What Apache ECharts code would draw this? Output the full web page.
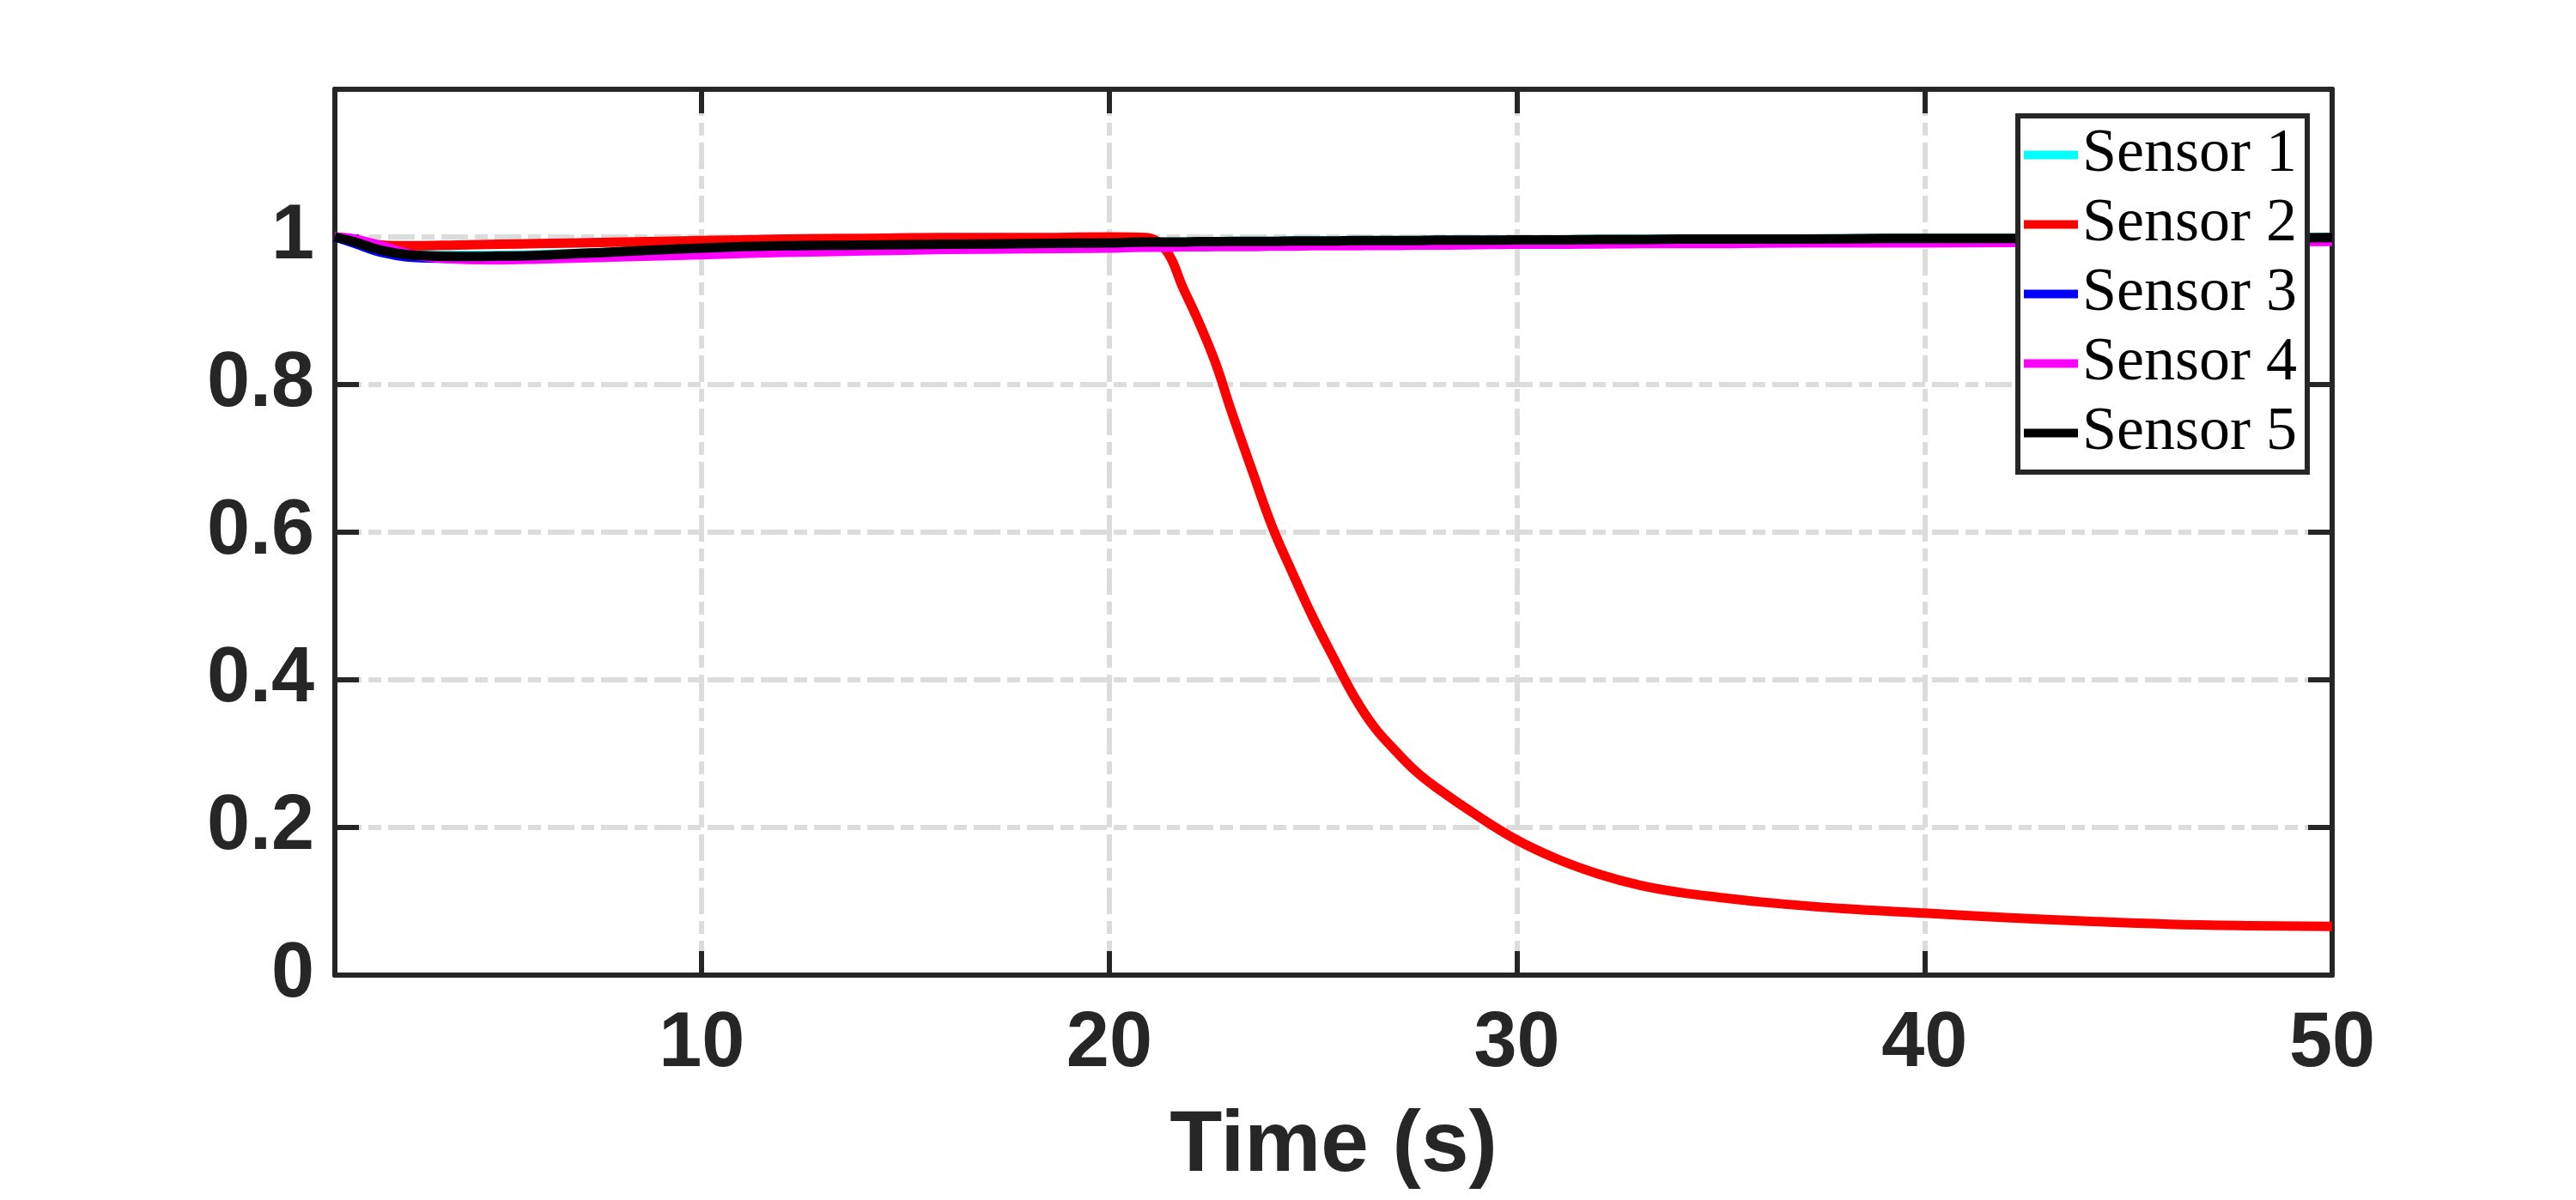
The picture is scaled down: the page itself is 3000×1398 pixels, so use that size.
<!DOCTYPE html>
<html lang="en">
<head>
<meta charset="UTF-8">
<title>Sensor trust over time</title>
<script src="https://cdn.jsdelivr.net/npm/echarts@6/dist/echarts.min.js"></script>
<style>
  html, body { margin: 0; padding: 0; background: #fff; }
  #chart { width: 3000px; height: 1398px; }
</style>
</head>
<body>
<div id="chart"></div>
<script>
// time axis (s)
var time = [1, 1.5, 2, 2.5, 3, 4, 5, 6, 8, 10, 12, 14, 16, 18, 20, 20.9, 21.4, 21.8, 22.2, 22.6,
  23, 23.5, 24, 24.5, 25, 25.5, 26, 26.5, 27, 27.5, 28, 29, 30, 31, 32, 33, 34, 35, 36, 38,
  40, 42, 44, 46, 48, 50];

var sensor1 = [1.000, 0.995, 0.987, 0.981, 0.977, 0.975, 0.975, 0.976, 0.980, 0.985, 0.988, 0.989, 0.990, 0.991, 0.992, 0.993, 0.993, 0.993, 0.9935, 0.9935,
  0.994, 0.994, 0.994, 0.9945, 0.9945, 0.9945, 0.995, 0.995, 0.995, 0.995, 0.9955, 0.9955, 0.996, 0.996, 0.9965, 0.9965, 0.997, 0.997, 0.997, 0.9975,
  0.998, 0.998, 0.998, 0.9985, 0.9985, 0.999];

var sensor2 = [1.000, 0.995, 0.990, 0.988, 0.988, 0.989, 0.990, 0.991, 0.993, 0.995, 0.997, 0.998, 0.999, 0.999, 1.000, 0.999, 0.981, 0.932, 0.884, 0.830,
  0.763, 0.684, 0.607, 0.544, 0.484, 0.430, 0.378, 0.336, 0.305, 0.277, 0.255, 0.217, 0.183, 0.157, 0.137, 0.122, 0.112, 0.105, 0.099, 0.090,
  0.084, 0.078, 0.073, 0.069, 0.067, 0.066];

var sensor3 = [1.000, 0.991, 0.981, 0.975, 0.972, 0.971, 0.9715, 0.973, 0.978, 0.983, 0.987, 0.988, 0.989, 0.990, 0.991, 0.992, 0.992, 0.992, 0.9925, 0.9925,
  0.993, 0.993, 0.993, 0.9935, 0.9935, 0.9935, 0.994, 0.994, 0.994, 0.994, 0.9945, 0.9945, 0.995, 0.995, 0.9955, 0.9955, 0.996, 0.996, 0.996, 0.9965,
  0.997, 0.997, 0.997, 0.9975, 0.9975, 0.998];

var sensor4 = [1.000, 0.997, 0.990, 0.982, 0.975, 0.970, 0.969, 0.970, 0.973, 0.976, 0.979, 0.981, 0.983, 0.984, 0.985, 0.986, 0.986, 0.9865, 0.9865, 0.987,
  0.987, 0.987, 0.9875, 0.9875, 0.988, 0.988, 0.988, 0.9885, 0.9885, 0.989, 0.989, 0.9895, 0.990, 0.990, 0.9905, 0.991, 0.991, 0.991, 0.9915, 0.992,
  0.992, 0.9925, 0.993, 0.993, 0.9935, 0.994];

var sensor5 = [1.000, 0.993, 0.984, 0.978, 0.975, 0.9735, 0.974, 0.975, 0.980, 0.985, 0.988, 0.989, 0.990, 0.991, 0.992, 0.993, 0.993, 0.993, 0.9935, 0.9935,
  0.994, 0.994, 0.994, 0.9945, 0.9945, 0.9945, 0.995, 0.995, 0.995, 0.995, 0.9955, 0.9955, 0.996, 0.996, 0.9965, 0.9965, 0.997, 0.997, 0.997, 0.9975,
  0.998, 0.998, 0.998, 0.9985, 0.9985, 0.999];

var names = ['Sensor 1', 'Sensor 2', 'Sensor 3', 'Sensor 4', 'Sensor 5'];
var colors = ['#00ffff', '#ff0000', '#0000ff', '#ff00ff', '#000000'];
var values = [sensor1, sensor2, sensor3, sensor4, sensor5];

var axisColor = '#262626';
var gridDash = { color: '#dcdcdc', width: 6, type: [31, 8, 15, 8] };
var tickFont = { fontSize: 90, fontWeight: 'bold', fontFamily: 'Liberation Sans', color: axisColor };

function pairs(vals) {
  return time.map(function (t, i) { return [t, vals[i]]; });
}

var myChart = echarts.init(document.getElementById('chart'));

var option = {
  animation: false,
  backgroundColor: '#fff',
  grid: { left: 390, right: 284, top: 104, bottom: 262, containLabel: false },
  legend: {
    orient: 'vertical',
    left: 2350,
    top: 135,
    icon: 'rect',
    itemWidth: 63,
    itemHeight: 10,
    itemGap: 0,
    padding: [5, 12, 5, 7],
    backgroundColor: '#fff',
    borderColor: axisColor,
    borderWidth: 6,
    textStyle: { fontFamily: 'Liberation Serif', fontSize: 72, lineHeight: 81, color: '#000' },
    data: names
  },
  xAxis: [{
    type: 'value',
    position: 'bottom',
    min: 1,
    max: 50,
    splitNumber: 5,
    name: 'Time (s)',
    nameLocation: 'middle',
    nameGap: 150,
    nameTextStyle: { fontSize: 100, fontWeight: 'bold', fontFamily: 'Liberation Sans', color: axisColor },
    axisLine: { show: true, onZero: false, lineStyle: { color: axisColor, width: 6 } },
    axisTick: { show: true, inside: true, length: 28, lineStyle: { color: axisColor, width: 6 } },
    axisLabel: Object.assign({ showMinLabel: false, margin: 36 }, tickFont),
    splitLine: { show: true, lineStyle: gridDash }
  }, {
    type: 'value',
    position: 'top',
    min: 1,
    max: 50,
    splitNumber: 5,
    axisLine: { show: true, onZero: false, lineStyle: { color: axisColor, width: 6 } },
    axisTick: { show: true, inside: true, length: 28, lineStyle: { color: axisColor, width: 6 } },
    axisLabel: { show: false },
    splitLine: { show: false }
  }],
  yAxis: [{
    type: 'value',
    position: 'left',
    min: 0,
    max: 1.2,
    interval: 0.2,
    axisLine: { show: true, onZero: false, lineStyle: { color: axisColor, width: 6 } },
    axisTick: { show: true, inside: true, length: 28, lineStyle: { color: axisColor, width: 6 } },
    axisLabel: Object.assign({ showMaxLabel: false, margin: 24 }, tickFont),
    splitLine: { show: true, lineStyle: gridDash }
  }, {
    type: 'value',
    position: 'right',
    min: 0,
    max: 1.2,
    interval: 0.2,
    axisLine: { show: true, onZero: false, lineStyle: { color: axisColor, width: 6 } },
    axisTick: { show: true, inside: true, length: 28, lineStyle: { color: axisColor, width: 6 } },
    axisLabel: { show: false },
    splitLine: { show: false }
  }],
  series: names.map(function (n, i) {
    return {
      name: n,
      type: 'line',
      xAxisIndex: 0,
      yAxisIndex: 0,
      color: colors[i],
      showSymbol: false,
      smooth: 0.4,
      lineStyle: { color: colors[i], width: 11, join: 'round', cap: 'butt' },
      data: pairs(values[i])
    };
  })
};

myChart.setOption(option);
</script>
</body>
</html>
